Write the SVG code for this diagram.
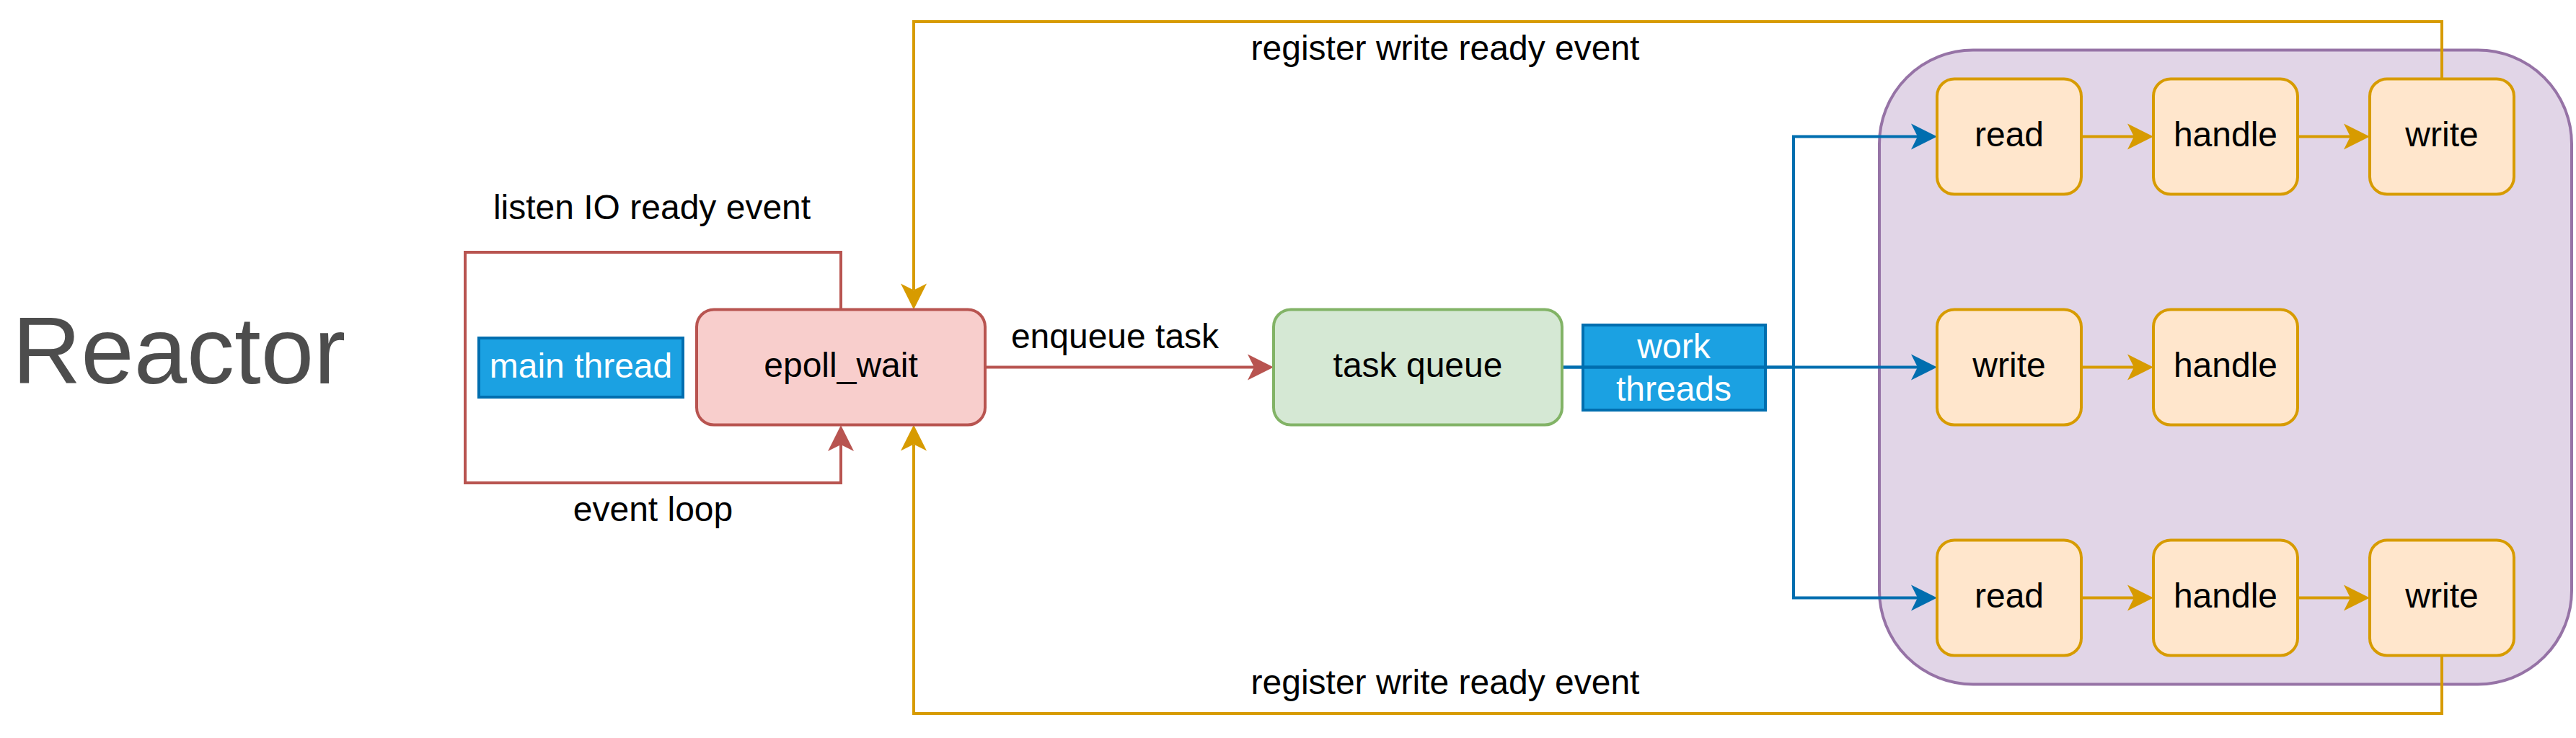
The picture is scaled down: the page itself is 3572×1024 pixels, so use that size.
<svg xmlns="http://www.w3.org/2000/svg" width="3572" height="1024" viewBox="0 0 3572 1024">
<style>
text{font-family:"Liberation Sans",Arial,Helvetica,sans-serif;font-size:48px;fill:#000;text-anchor:middle}
.title{font-size:132px;fill:#4d4d4d}
.wt{fill:#fff}
.red{fill:#f8cecc;stroke:#b85450;stroke-width:4}
.green{fill:#d5e8d4;stroke:#82b366;stroke-width:4}
.blue{fill:#1ba1e2;stroke:#006eaf;stroke-width:4}
.org{fill:#ffe6cc;stroke:#d79b00;stroke-width:4}
.pur{fill:#e1d5e7;stroke:#9673a6;stroke-width:4}
.e{fill:none;stroke-width:4;stroke-linejoin:miter}
.er{stroke:#b85450}
.eo{stroke:#d79b00}
.eb{stroke:#006eaf}
</style>
<defs>
<marker id="ar" markerUnits="userSpaceOnUse" viewBox="-10 -20 40 40" refX="0" refY="0" markerWidth="40" markerHeight="40" orient="auto" overflow="visible"><path d="M27,0 L-9,-18 L0,0 L-9,18 Z" fill="#b85450"/></marker>
<marker id="ao" markerUnits="userSpaceOnUse" viewBox="-10 -20 40 40" refX="0" refY="0" markerWidth="40" markerHeight="40" orient="auto" overflow="visible"><path d="M27,0 L-9,-18 L0,0 L-9,18 Z" fill="#d79b00"/></marker>
<marker id="ab" markerUnits="userSpaceOnUse" viewBox="-10 -20 40 40" refX="0" refY="0" markerWidth="40" markerHeight="40" orient="auto" overflow="visible"><path d="M27,0 L-9,-18 L0,0 L-9,18 Z" fill="#006eaf"/></marker>
</defs>
<rect width="3572" height="1024" fill="#fff"/>

<g id="title"><text class="title" x="248" y="532">Reactor</text></g>

<g id="container"><rect class="pur" x="2606" y="69.5" width="960" height="880" rx="130" ry="130"/></g>

<g id="main-thread"><rect class="blue" x="664" y="469" width="283" height="82"/><text class="wt" x="805.5" y="524">main thread</text></g>

<g id="work-threads"><rect class="blue" x="2195" y="451" width="253" height="118"/><text class="wt" x="2321" y="497">work</text><text class="wt" x="2321" y="556">threads</text></g>

<g id="connectors">
<path class="e er" d="M1166,429.5 V350 H645 V670 H1166 V617" marker-end="url(#ar)"/>
<path class="e er" d="M1366,509.5 H1739" marker-end="url(#ar)"/>
<path class="e eb" d="M2166,509.5 H2487 V189.5 H2659" marker-end="url(#ab)"/>
<path class="e eb" d="M2166,509.5 H2659" marker-end="url(#ab)"/>
<path class="e eb" d="M2487,509.5 V829.5 H2659" marker-end="url(#ab)"/>
<path class="e eo" d="M2886,189.5 H2959" marker-end="url(#ao)"/>
<path class="e eo" d="M3186,189.5 H3259" marker-end="url(#ao)"/>
<path class="e eo" d="M2886,509.5 H2959" marker-end="url(#ao)"/>
<path class="e eo" d="M2886,829.5 H2959" marker-end="url(#ao)"/>
<path class="e eo" d="M3186,829.5 H3259" marker-end="url(#ao)"/>
<path class="e eo" d="M3386,109.5 V30 H1267 V402.5" marker-end="url(#ao)"/>
<path class="e eo" d="M3386,909.5 V990 H1267 V616.5" marker-end="url(#ao)"/>
<text x="904" y="304">listen IO ready event</text>
<text x="905.5" y="723">event loop</text>
<text x="1546" y="483">enqueue task</text>
<text x="2004" y="83">register write ready event</text>
<text x="2004" y="963">register write ready event</text>
</g>

<g id="epoll-wait"><rect class="red" x="966" y="429.5" width="400" height="160" rx="24"/><text x="1166" y="523">epoll_wait</text></g>
<g id="task-queue"><rect class="green" x="1766" y="429.5" width="400" height="160" rx="24"/><text x="1966" y="523">task queue</text></g>

<g id="read1"><rect class="org" x="2686" y="109.5" width="200" height="160" rx="24"/><text x="2786" y="203">read</text></g>
<g id="handle1"><rect class="org" x="2986" y="109.5" width="200" height="160" rx="24"/><text x="3086" y="203">handle</text></g>
<g id="write1"><rect class="org" x="3286" y="109.5" width="200" height="160" rx="24"/><text x="3386" y="203">write</text></g>
<g id="write2"><rect class="org" x="2686" y="429.5" width="200" height="160" rx="24"/><text x="2786" y="523">write</text></g>
<g id="handle2"><rect class="org" x="2986" y="429.5" width="200" height="160" rx="24"/><text x="3086" y="523">handle</text></g>
<g id="read3"><rect class="org" x="2686" y="749.5" width="200" height="160" rx="24"/><text x="2786" y="843">read</text></g>
<g id="handle3"><rect class="org" x="2986" y="749.5" width="200" height="160" rx="24"/><text x="3086" y="843">handle</text></g>
<g id="write3"><rect class="org" x="3286" y="749.5" width="200" height="160" rx="24"/><text x="3386" y="843">write</text></g>
</svg>
